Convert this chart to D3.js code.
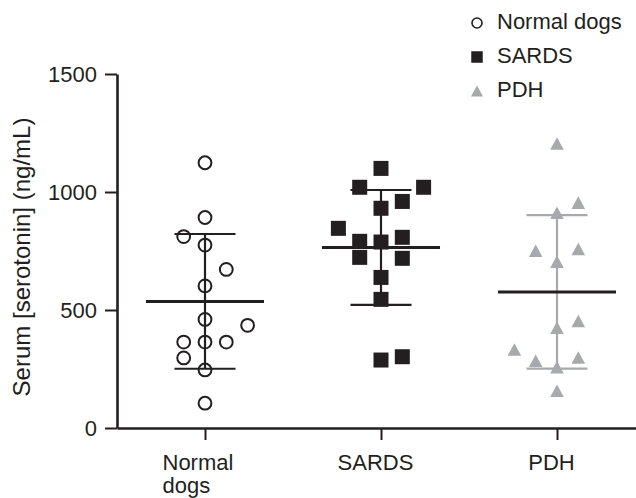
<!DOCTYPE html>
<html>
<head>
<meta charset="utf-8">
<script src="https://cdn.jsdelivr.net/npm/d3@7"></script>
<style>
  html, body { margin: 0; padding: 0; background: #fff; }
  svg { display: block; }
  text { font-family: "Liberation Sans", Arial, Helvetica, sans-serif; fill: #231f20; }
</style>
</head>
<body>
<svg id="chart" width="636" height="498"></svg>
<script>
// ---- data ----
const categories = ["Normal dogs", "SARDS", "PDH"];
const tickLabels = [["Normal", "dogs"], ["SARDS"], ["PDH"]];
const yTicks = [0, 500, 1000, 1500];

const normalValues = [1124, 892, 811, 775, 672, 602, 460, 435, 364, 364, 364, 297, 246, 105];
const normalSlots  = [0, 0, -1, 0, 1, 0, 0, 2, -1, 0, 1, -1, 0, 0];

const sardsValues = [1100, 1020, 1020, 960, 931, 846, 791, 788, 808, 723, 719, 638, 545, 288, 302];
const sardsSlots  = [0, -1, 2, 1, 0, -2, -1, 0, 1, -1, 1, 0, 0, 0, 1];

const pdhValues = [1206, 955, 912, 751, 758, 705, 453, 425, 333, 285, 299, 257, 158];
const pdhSlots  = [0, 1, 0, -1, 1, 0, 1, 0, -2, -1, 1, 0, 0];

// ---- layout / styles ----
const dark = "#231f20", gray = "#a7a9ac";
const series = [
  { name: categories[0], values: normalValues, slots: normalSlots, shape: "circle",   color: dark, barColor: dark },
  { name: categories[1], values: sardsValues,  slots: sardsSlots,  shape: "square",   color: dark, barColor: dark },
  { name: categories[2], values: pdhValues,    slots: pdhSlots,    shape: "triangle", color: gray, barColor: gray }
];

const svg = d3.select("#chart");
const x = d3.scalePoint().domain(categories).range([117, 645]).padding(0.5);
const y = d3.scaleLinear().domain([0, 1500]).range([428, 74]);
const slot = d3.scaleLinear().domain([0, 1]).range([0, 21.3]);

// axes
const yAxis = svg.append("g").attr("transform", "translate(117,0)")
  .call(d3.axisLeft(y).tickValues(yTicks).tickFormat(d3.format("d")).tickSize(12).tickSizeOuter(0).tickPadding(8));
yAxis.select(".domain").attr("stroke", dark).attr("stroke-width", 2.6);
yAxis.selectAll(".tick line").attr("stroke", dark).attr("stroke-width", 2);
yAxis.selectAll(".tick text").attr("font-size", 22).attr("font-family", null).style("fill", dark);

const xAxis = svg.append("g").attr("transform", "translate(0,428)")
  .call(d3.axisBottom(x).tickSize(12).tickSizeOuter(0).tickFormat(""));
xAxis.select(".domain").attr("stroke", dark).attr("stroke-width", 2.6);
xAxis.selectAll(".tick line").attr("stroke", dark).attr("stroke-width", 2);
xAxis.selectAll(".tick").each(function(d, i) {
  const lines = tickLabels[i];
  const t = d3.select(this).append("text")
    .attr("font-size", 22)
    .attr("text-anchor", lines.length > 1 ? "start" : "middle")
    .style("fill", dark);
  lines.forEach((ln, j) => {
    t.append("tspan")
      .attr("x", lines.length > 1 ? -43 : -6)
      .attr("y", 42 + j * 23)
      .text(ln);
  });
});

// y label
svg.append("text")
  .attr("transform", "translate(30,257) rotate(-90)")
  .attr("text-anchor", "middle")
  .attr("font-size", 24)
  .text("Serum [serotonin] (ng/mL)");

// symbol drawing
function drawSymbol(g, shape, cx, cy, size, color, strokeW) {
  if (shape === "circle") {
    g.append("circle").attr("cx", cx).attr("cy", cy).attr("r", size / 2)
      .attr("fill", "none").attr("stroke", color).attr("stroke-width", strokeW);
  } else if (shape === "square") {
    g.append("rect").attr("x", cx - size / 2).attr("y", cy - size / 2)
      .attr("width", size).attr("height", size).attr("fill", color);
  } else {
    const h = size * 0.92;
    g.append("path")
      .attr("d", `M${cx},${cy - h / 2}L${cx + size / 2},${cy + h / 2}L${cx - size / 2},${cy + h / 2}Z`)
      .attr("fill", color);
  }
}

// error bars (mean ± SD)
series.forEach(s => {
  const cx = x(s.name);
  const m = d3.mean(s.values), sd = d3.deviation(s.values);
  const g = svg.append("g");
  g.append("line").attr("x1", cx).attr("x2", cx).attr("y1", y(m + sd)).attr("y2", y(m - sd))
    .attr("stroke", s.barColor).attr("stroke-width", 2.2);
  [m + sd, m - sd].forEach(v => {
    g.append("line").attr("x1", cx - 30.5).attr("x2", cx + 30.5).attr("y1", y(v)).attr("y2", y(v))
      .attr("stroke", s.barColor).attr("stroke-width", 2.2);
  });
});

// points
series.forEach(s => {
  const cx = x(s.name);
  const g = svg.append("g");
  s.values.forEach((v, i) => {
    const size = s.shape === "circle" ? 12.8 : (s.shape === "square" ? 15 : 13.6);
    drawSymbol(g, s.shape, cx + slot(s.slots[i]), y(v), size, s.color, 2);
  });
});

// mean lines on top
series.forEach(s => {
  const cx = x(s.name);
  const m = d3.mean(s.values);
  svg.append("line").attr("x1", cx - 59).attr("x2", cx + 59).attr("y1", y(m)).attr("y2", y(m))
    .attr("stroke", dark).attr("stroke-width", 3);
});

// legend
const legend = svg.append("g");
series.forEach((s, i) => {
  const ly = 23 + i * 34;
  const size = s.shape === "circle" ? 10 : (s.shape === "square" ? 11.5 : 12);
  drawSymbol(legend, s.shape, 477, ly, size, s.color, 1.6);
  legend.append("text").attr("x", 497).attr("y", ly + 5.5 + (i === 2 ? 0.5 : 0))
    .attr("font-size", 22).text(s.name);
});
</script>
</body>
</html>
